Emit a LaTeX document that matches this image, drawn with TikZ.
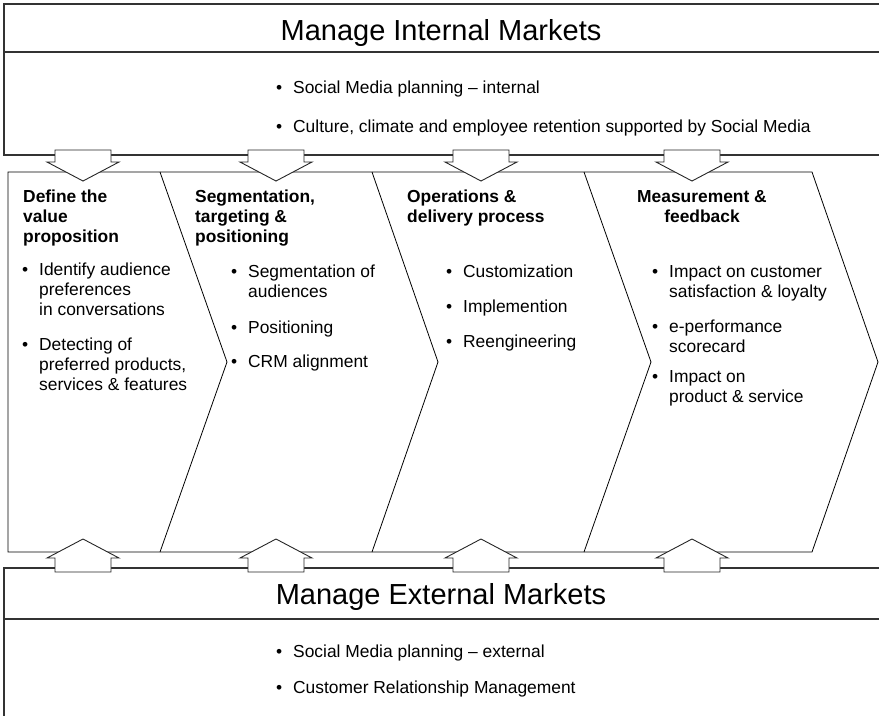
\documentclass[tikz,border=0pt]{standalone}
\usepackage{fontspec}
\setmainfont{Liberation Sans}
\newcommand{\bul}{\makebox[17pt][l]{\textbullet}}
\newcommand{\ind}{\hspace*{17pt}}
\begin{document}
\begin{tikzpicture}[x=1pt,y=-1pt]
    \tikzstyle{box}=[draw=black!80,line width=1.4pt]
    \tikzstyle{chevron}=[draw=black,line width=0.8pt]
    \tikzstyle{blockarrow}=[draw=black!85,fill=white,line width=0.9pt]
    \tikzstyle{title}=[anchor=base,inner sep=0pt,font=\fontsize{29}{34}\selectfont]
    \tikzstyle{txt}=[anchor=north west,inner sep=0pt,align=left,yshift=14pt,font=\fontsize{17.4}{20}\selectfont]
    \tikzstyle{head}=[txt,font=\fontsize{17.4}{20}\selectfont\bfseries]
    \useasboundingbox (0,0) rectangle (879,716);

    % internal markets
    \draw[box] (879,4) -- (4,4) -- (4,155) -- (879,155);
    \draw[box] (4,52) -- (879,52);
    \node[title] (intitle) at (441,40) {Manage Internal Markets};
    \node[txt] (in1) at (276,93) {\strut\bul Social Media planning -- internal};
    \node[txt] (in2) at (276,132) {\strut\bul Culture, climate and employee retention supported by Social Media};

    % external markets
    \draw[box] (879,568) -- (4,568) -- (4,716);
    \draw[box] (4,619) -- (879,619);
    \node[title] (extitle) at (441,604) {Manage External Markets};
    \node[txt] (ex1) at (276,657) {\strut\bul Social Media planning -- external};
    \node[txt] (ex2) at (276,693) {\strut\bul Customer Relationship Management};

    % chevrons
    \draw[chevron] (8,172) -- (812,172) -- (878,362) -- (812,552) -- (8,552) -- cycle;
    \draw[chevron] (160,172) -- (227,362) -- (160,552);
    \draw[chevron] (372,172) -- (438,362) -- (372,552);
    \draw[chevron] (584,172) -- (651,362) -- (584,552);

    \foreach \c in {83,276,481,692}{
      \draw[blockarrow] (\c-28,150) -- (\c+28,150) -- (\c+28,162) -- (\c+36,162)
        -- (\c,181) -- (\c-36,162) -- (\c-28,162) -- cycle;
      \draw[blockarrow] (\c-28,572) -- (\c+28,572) -- (\c+28,558) -- (\c+36,558)
        -- (\c,539) -- (\c-36,558) -- (\c-28,558) -- cycle;
    }

    \node[head] (valhead) at (23,202) {\strut Define the\\value\\proposition};
    \node[txt] (val1) at (22,275) {\strut\bul Identify audience\\\ind preferences\\\ind in conversations};
    \node[txt] (val2) at (22,350) {\strut\bul Detecting of\\\ind preferred products,\\\ind services \& features};

    \node[head] (seghead) at (195,202) {\strut Segmentation,\\targeting \&\\positioning};
    \node[txt] (seg1) at (231,277) {\strut\bul Segmentation of\\\ind audiences};
    \node[txt] (seg2) at (231,333) {\strut\bul Positioning};
    \node[txt] (seg3) at (231,367) {\strut\bul CRM alignment};

    \node[head] (opshead) at (407,202) {\strut Operations \&\\delivery process};
    \node[txt] (ops1) at (446,277) {\strut\bul Customization};
    \node[txt] (ops2) at (446,312) {\strut\bul Implemention};
    \node[txt] (ops3) at (446,347) {\strut\bul Reengineering};

    \node[head,anchor=north,align=center] (meashead) at (702,202) {\strut Measurement \&\\feedback};
    \node[txt] (meas1) at (652,277) {\strut\bul Impact on customer\\\ind satisfaction \& loyalty};
    \node[txt] (meas2) at (652,332) {\strut\bul e-performance\\\ind scorecard};
    \node[txt] (meas3) at (652,382) {\strut\bul Impact on\\\ind product \& service};
\end{tikzpicture}
\end{document}
